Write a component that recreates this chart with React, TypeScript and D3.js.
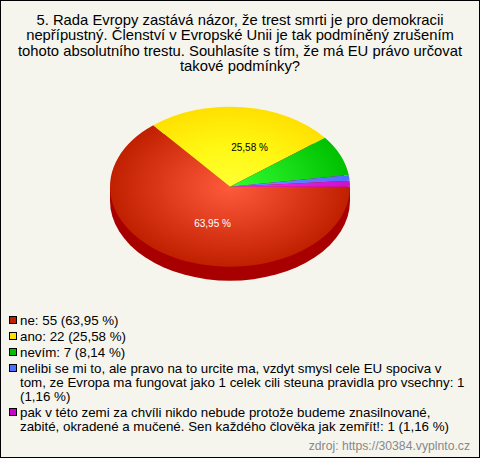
import React from "react";
import * as d3 from "d3";

const titleLines = [
  "5. Rada Evropy zastává názor, že trest smrti je pro demokracii",
  "nepřípustný. Členství v Evropské Unii je tak podmíněný zrušením",
  "tohoto absolutního trestu. Souhlasíte s tím, že má EU právo určovat",
  "takové podmínky?",
];
const values = [55, 22, 7, 1, 1];
const percentLabels = ["63,95 %", "25,58 %", "", "", ""];
const centerColors = ["#ff5a3c", "#ffff33", "#33ff33", "#6f8fff", "#ff33ff"];
const middleColors = ["#e03c1e", "#fff814", "#1ae01a", "#5f80ff", "#e020e0"];
const edgeColors = ["#c02000", "#ffe000", "#00c000", "#4f70ff", "#cc10cc"];
const legendSwatches = ["#c02000", "#ffe000", "#00c000", "#4f70ff", "#cc00cc"];
const legendEntries = [
  ["ne: 55 (63,95 %)"],
  ["ano: 22 (25,58 %)"],
  ["nevím: 7 (8,14 %)"],
  [
    "nelibi se mi to, ale pravo na to urcite ma, vzdyt smysl cele EU spociva v",
    "tom, ze Evropa ma fungovat jako 1 celek cili steuna pravidla pro vsechny: 1",
    "(1,16 %)",
  ],
  [
    "pak v této zemi za chvíli nikdo nebude protože budeme znasilnované,",
    "zabité, okradené a mučené. Sen každého člověka jak zemřít!: 1 (1,16 %)",
  ],
];
const source = "zdroj: https://30384.vyplnto.cz";

const font = "'Liberation Sans', Arial, sans-serif";
const cx = 230;
const cy = 186.7;
const rx = 120;
const ry = 80;
const depth = 14;
const yScale = ry / rx;

export default function App() {
  const pie = d3
    .pie<number>()
    .sort(null)
    .startAngle(Math.PI / 2)
    .endAngle(Math.PI / 2 + 2 * Math.PI);
  const slices = pie(values);
  const arc = d3.arc<d3.PieArcDatum<number>>().innerRadius(0).outerRadius(rx);
  const full = d3.arc()({ innerRadius: 0, outerRadius: rx, startAngle: 0, endAngle: 2 * Math.PI }) as string;

  let legendY = 325;
  const legendRows = legendEntries.map((lines) => {
    const y = legendY;
    legendY += lines.length * 14 + 2;
    return { lines, y };
  });

  return (
    <svg
      width={480}
      height={458}
      style={{ position: "absolute", left: 0, top: 0, display: "block" }}
      fontFamily={font}
    >
      <defs>
        {slices.map((_, i) => (
          <radialGradient
            key={i}
            id={`g${i}`}
            gradientUnits="userSpaceOnUse"
            cx={0}
            cy={0}
            r={rx}
          >
            <stop offset="0" stopColor={centerColors[i]} />
            <stop offset="0.5" stopColor={middleColors[i]} />
            <stop offset="1" stopColor={edgeColors[i]} />
          </radialGradient>
        ))}
      </defs>
      <rect x={0.5} y={0.5} width={479} height={457} fill="#f5f5ee" stroke="#000" strokeWidth={1} />
      {titleLines.map((t, i) => (
        <text key={i} x={240} y={25 + i * 15.4} textAnchor="middle" fontSize={14.8} fill="#000">
          {t}
        </text>
      ))}
      <g transform={`translate(${cx},${cy + depth}) scale(1,${yScale})`}>
        <path d={full} fill="#a80000" />
      </g>
      <rect x={cx - rx} y={cy} width={rx * 2} height={depth} fill="#a80000" />
      <g transform={`translate(${cx},${cy}) scale(1,${yScale})`}>
        {slices.map((s, i) => (
          <path key={i} d={arc(s) as string} fill={`url(#g${i})`} />
        ))}
      </g>
      {slices.map((s, i) => {
        if (!percentLabels[i]) return null;
        const a = (s.startAngle + s.endAngle) / 2;
        const r = rx * 0.5;
        const dx = i === 0 ? 8 : 13;
        const x = cx + r * Math.sin(a) + dx;
        const y = cy - r * Math.cos(a) * yScale;
        return (
          <text key={i} x={x} y={y + 4} textAnchor="middle" fontSize={10} fill={i === 0 ? "#fff" : "#000"}>
            {percentLabels[i]}
          </text>
        );
      })}
      {legendRows.map((row, i) => (
        <g key={i}>
          <rect x={9.5} y={row.y - 8.5} width={7} height={7} fill={legendSwatches[i]} stroke="#000" strokeWidth={1} />
          {row.lines.map((l, j) => (
            <text key={j} x={20} y={row.y + j * 14} fontSize={13.33} fill="#000">
              {l}
            </text>
          ))}
        </g>
      ))}
      <text x={470} y={450} textAnchor="end" fontSize={12.2} fill="#888">
        {source}
      </text>
    </svg>
  );
}
